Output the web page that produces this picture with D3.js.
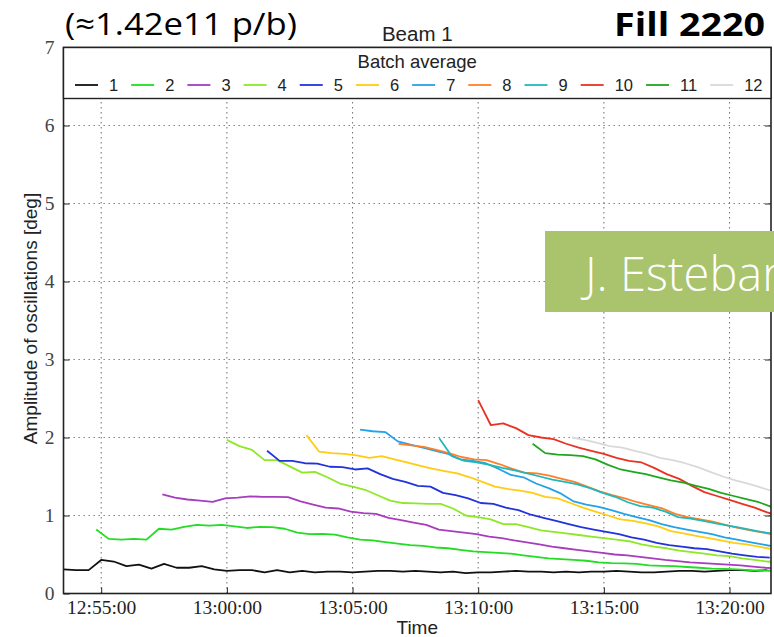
<!DOCTYPE html>
<html>
<head>
<meta charset="utf-8">
<script src="https://cdn.jsdelivr.net/npm/d3@7"></script>
<style>
  body { margin: 0; background: #fff; }
  svg { display: block; }
</style>
</head>
<body>
<div id="chart"></div>
<script>
// batch names, first sample time of each batch, sampling period
const batchNames = ["1", "2", "3", "4", "5", "6", "7", "8", "9", "10", "11", "12"];
const startTimes = ["12:53:30", "12:54:48", "12:57:26", "13:00:00", "13:01:36", "13:03:10",
                    "13:05:18", "13:06:50", "13:08:27", "13:10:00", "13:12:10", "13:13:44"];
const stepSeconds = 30;

// batch average amplitude [deg]
const b1 = [0.31,0.30,0.30,0.43,0.41,0.35,0.37,0.32,0.38,0.33,0.33,0.35,0.31,0.29,0.30,0.30,0.27,0.30,0.27,0.29,
            0.27,0.28,0.28,0.27,0.28,0.29,0.29,0.28,0.29,0.28,0.27,0.28,0.26,0.27,0.27,0.28,0.29,0.28,0.28,0.27,
            0.28,0.27,0.28,0.28,0.29,0.28,0.27,0.27,0.28,0.29,0.29,0.28,0.29,0.30,0.30,0.29,0.30];
const b2 = [0.82,0.70,0.69,0.70,0.69,0.83,0.82,0.855,0.88,0.87,0.88,0.86,0.84,0.855,0.85,0.83,0.78,0.76,0.765,0.755,
            0.72,0.69,0.68,0.66,0.64,0.62,0.61,0.59,0.58,0.56,0.54,0.53,0.52,0.51,0.49,0.47,0.45,0.44,0.43,0.42,
            0.40,0.39,0.385,0.38,0.36,0.355,0.35,0.34,0.33,0.32,0.315,0.31,0.30,0.295,0.29];
const b3 = [1.27,1.23,1.205,1.19,1.175,1.22,1.23,1.245,1.24,1.24,1.235,1.18,1.14,1.10,1.09,1.05,1.03,1.02,0.97,0.94,
            0.91,0.88,0.82,0.80,0.78,0.76,0.73,0.71,0.68,0.655,0.63,0.60,0.58,0.56,0.54,0.52,0.50,0.49,0.47,0.45,
            0.43,0.415,0.40,0.39,0.38,0.37,0.36,0.345,0.33,0.32];
const b4 = [1.97,1.89,1.84,1.71,1.71,1.63,1.55,1.56,1.49,1.41,1.37,1.33,1.26,1.19,1.16,1.155,1.15,1.15,1.09,1.00,
            0.98,0.95,0.89,0.89,0.85,0.81,0.79,0.77,0.75,0.73,0.71,0.69,0.67,0.63,0.60,0.58,0.55,0.53,0.51,0.49,
            0.48,0.45,0.43,0.41,0.40];
const b5 = [1.83,1.70,1.70,1.67,1.665,1.625,1.62,1.59,1.605,1.53,1.47,1.43,1.38,1.37,1.29,1.26,1.22,1.16,1.15,1.10,
            1.07,1.01,0.97,0.93,0.89,0.85,0.82,0.79,0.76,0.72,0.69,0.65,0.62,0.60,0.58,0.57,0.54,0.51,0.49,0.47,0.46];
const b6 = [2.03,1.82,1.80,1.79,1.77,1.74,1.76,1.72,1.68,1.64,1.60,1.57,1.54,1.49,1.43,1.37,1.34,1.32,1.29,1.24,
            1.22,1.16,1.10,1.05,1.00,0.95,0.93,0.90,0.86,0.80,0.77,0.74,0.71,0.68,0.65,0.63,0.60,0.57];
const b7 = [2.10,2.08,2.07,1.95,1.91,1.87,1.83,1.79,1.72,1.70,1.67,1.60,1.52,1.49,1.41,1.35,1.28,1.18,1.14,1.11,
            1.07,1.02,0.98,0.94,0.89,0.85,0.82,0.79,0.76,0.72,0.69,0.66,0.63,0.60];
const b8 = [1.92,1.90,1.88,1.84,1.80,1.75,1.72,1.71,1.66,1.60,1.55,1.54,1.51,1.47,1.43,1.37,1.31,1.26,1.22,1.17,
            1.13,1.09,1.02,0.98,0.95,0.92,0.88,0.84,0.81,0.78,0.75];
const b9 = [1.99,1.76,1.70,1.68,1.65,1.61,1.58,1.54,1.50,1.46,1.43,1.40,1.35,1.29,1.24,1.17,1.12,1.10,1.05,0.98,
            0.96,0.93,0.90,0.87,0.84,0.81,0.78,0.76];
const b10 = [2.48,2.16,2.18,2.12,2.03,2.00,1.98,1.92,1.87,1.83,1.79,1.74,1.70,1.68,1.61,1.53,1.47,1.38,1.30,1.25,
             1.20,1.15,1.10,1.04,0.99];
const b11 = [1.92,1.80,1.78,1.775,1.76,1.72,1.65,1.59,1.56,1.53,1.49,1.45,1.42,1.38,1.34,1.29,1.25,1.21,1.17,1.11];
const b12 = [2.00,1.97,1.93,1.89,1.87,1.83,1.79,1.74,1.71,1.67,1.62,1.56,1.50,1.45,1.41,1.36,1.31];

// axes
const timeDomain = ["12:53:30", "13:21:39"];
const xTickLabels = ["12:55:00", "13:00:00", "13:05:00", "13:10:00", "13:15:00", "13:20:00"];
const yTicks = [0, 1, 2, 3, 4, 5, 6, 7];
const gridY = [1, 2, 3, 4, 5, 6];

const colors = ["#111111", "#22dd22", "#a83cbf", "#8ee828", "#2233dd", "#ffcc11",
                "#22a2e8", "#ff7f27", "#22b8b8", "#e83322", "#1fa61f", "#d9d9d9"];

const parseTime = d3.timeParse("%H:%M:%S");
const batches = [b1, b2, b3, b4, b5, b6, b7, b8, b9, b10, b11, b12].map((vals, i) => ({
  name: batchNames[i],
  color: colors[i],
  points: vals.map((v, j) => ({ t: d3.timeSecond.offset(parseTime(startTimes[i]), j * stepSeconds), v }))
}));

const W = 774, H = 637;
const plot = { left: 63.5, right: 771, top: 47.5, bottom: 593.5 };
const legendBottom = 98.5;
const serif = "'Liberation Serif', 'Times New Roman', serif";
const slideFont = "'Open Sans', 'Noto Sans', sans-serif";

const svg = d3.select("#chart").append("svg")
  .attr("width", W).attr("height", H)
  .style("font-family", "'Liberation Sans', Arial, sans-serif");

const x = d3.scaleTime().domain(timeDomain.map(parseTime)).range([plot.left, plot.right]);
const y = d3.scaleLinear().domain([0, 7]).range([plot.bottom, plot.top]);

svg.append("defs").append("clipPath").attr("id", "clip")
  .append("rect")
  .attr("x", plot.left).attr("y", plot.top)
  .attr("width", plot.right - plot.left).attr("height", plot.bottom - plot.top);

// dotted grid
const grid = svg.append("g").attr("stroke", "#7a7a7a").attr("stroke-width", 1.1)
  .attr("stroke-dasharray", "1.4,3.6");
grid.selectAll(".gx").data(xTickLabels.map(parseTime)).join("line")
  .attr("x1", d => x(d)).attr("x2", d => x(d))
  .attr("y1", plot.bottom).attr("y2", legendBottom);
grid.selectAll(".gy").data(gridY).join("line")
  .attr("x1", plot.left).attr("x2", plot.right)
  .attr("y1", d => y(d)).attr("y2", d => y(d));

// batch lines
const line = d3.line().x(d => x(d.t)).y(d => y(d.v));
svg.append("g").attr("clip-path", "url(#clip)")
  .selectAll("path").data(batches).join("path")
  .attr("fill", "none")
  .attr("stroke", d => d.color)
  .attr("stroke-width", 1.8)
  .attr("stroke-linejoin", "round")
  .attr("d", d => line(d.points));

// x axis
const xAxis = svg.append("g")
  .attr("transform", `translate(0,${plot.bottom})`)
  .call(d3.axisBottom(x)
    .tickValues(xTickLabels.map(parseTime))
    .tickFormat(d3.timeFormat("%H:%M:%S"))
    .tickSizeInner(-6).tickSizeOuter(0).tickPadding(7));
xAxis.select(".domain").remove();
xAxis.selectAll("line").attr("stroke", "#222");
xAxis.selectAll("text").attr("font-family", serif).attr("font-size", 19.5).attr("fill", "#222");

// y axis
const yAxis = svg.append("g")
  .attr("transform", `translate(${plot.left},0)`)
  .call(d3.axisLeft(y).tickValues(yTicks).tickFormat(d3.format("d"))
    .tickSizeInner(-6).tickSizeOuter(0).tickPadding(9));
yAxis.select(".domain").remove();
yAxis.selectAll("line").attr("stroke", "#222");
yAxis.selectAll("text").attr("font-family", serif).attr("font-size", 19.5).attr("fill", "#444");

// right side ticks
svg.append("g").attr("transform", `translate(${plot.right},0)`)
  .call(d3.axisRight(y).tickValues(gridY).tickSizeInner(-6).tickSizeOuter(0).tickFormat(""))
  .call(g => g.select(".domain").remove())
  .selectAll("line").attr("stroke", "#222");

// frame
svg.append("rect")
  .attr("x", plot.left).attr("y", plot.top)
  .attr("width", plot.right - plot.left).attr("height", plot.bottom - plot.top)
  .attr("fill", "none").attr("stroke", "#222").attr("stroke-width", 1.6);

// legend box
const lg = svg.append("g");
lg.append("rect")
  .attr("x", plot.left).attr("y", plot.top)
  .attr("width", plot.right - plot.left).attr("height", legendBottom - plot.top)
  .attr("fill", "#fff").attr("stroke", "#222").attr("stroke-width", 1.4);
lg.append("text")
  .attr("x", (plot.left + plot.right) / 2).attr("y", 68)
  .attr("text-anchor", "middle").attr("font-size", 18.5).attr("fill", "#222")
  .text("Batch average");
let cursor = 75;
batches.forEach(b => {
  lg.append("line")
    .attr("x1", cursor).attr("x2", cursor + 23)
    .attr("y1", 85).attr("y2", 85)
    .attr("stroke", b.color).attr("stroke-width", 1.8);
  const t = lg.append("text")
    .attr("x", cursor + 34).attr("y", 90.5)
    .attr("font-size", 16.5).attr("fill", "#222")
    .text(b.name);
  cursor += 34 + t.node().getComputedTextLength() + 13;
});

// titles
svg.append("text")
  .attr("x", (plot.left + plot.right) / 2).attr("y", 40.5)
  .attr("text-anchor", "middle").attr("font-size", 20.5).attr("fill", "#222")
  .text("Beam 1");
svg.append("text")
  .attr("x", (plot.left + plot.right) / 2).attr("y", 634)
  .attr("text-anchor", "middle").attr("font-size", 19).attr("fill", "#222")
  .text("Time");
svg.append("text")
  .attr("transform", `translate(37,${(plot.top + plot.bottom) / 2 - 2}) rotate(-90)`)
  .attr("text-anchor", "middle").attr("font-size", 19).attr("fill", "#222")
  .text("Amplitude of oscillations [deg]");

// slide annotations on top of the plot
svg.append("text")
  .attr("x", 65).attr("y", 35)
  .attr("font-family", slideFont)
  .attr("font-size", 31).attr("fill", "#000")
  .attr("textLength", 232).attr("lengthAdjust", "spacingAndGlyphs")
  .text("(≈1.42e11 p/b)");
svg.append("text")
  .attr("x", 614).attr("y", 36)
  .attr("font-family", slideFont)
  .attr("font-weight", "bold").attr("font-size", 33).attr("fill", "#000")
  .attr("textLength", 151).attr("lengthAdjust", "spacingAndGlyphs")
  .text("Fill 2220");
svg.append("rect")
  .attr("x", 545).attr("y", 231).attr("width", 240).attr("height", 81)
  .attr("fill", "#a9c46c");
svg.append("text")
  .attr("x", 585).attr("y", 291)
  .attr("font-family", slideFont)
  .attr("font-weight", 300).attr("font-size", 47).attr("fill", "#fff")
  .text("J. Esteban");
</script>
</body>
</html>
